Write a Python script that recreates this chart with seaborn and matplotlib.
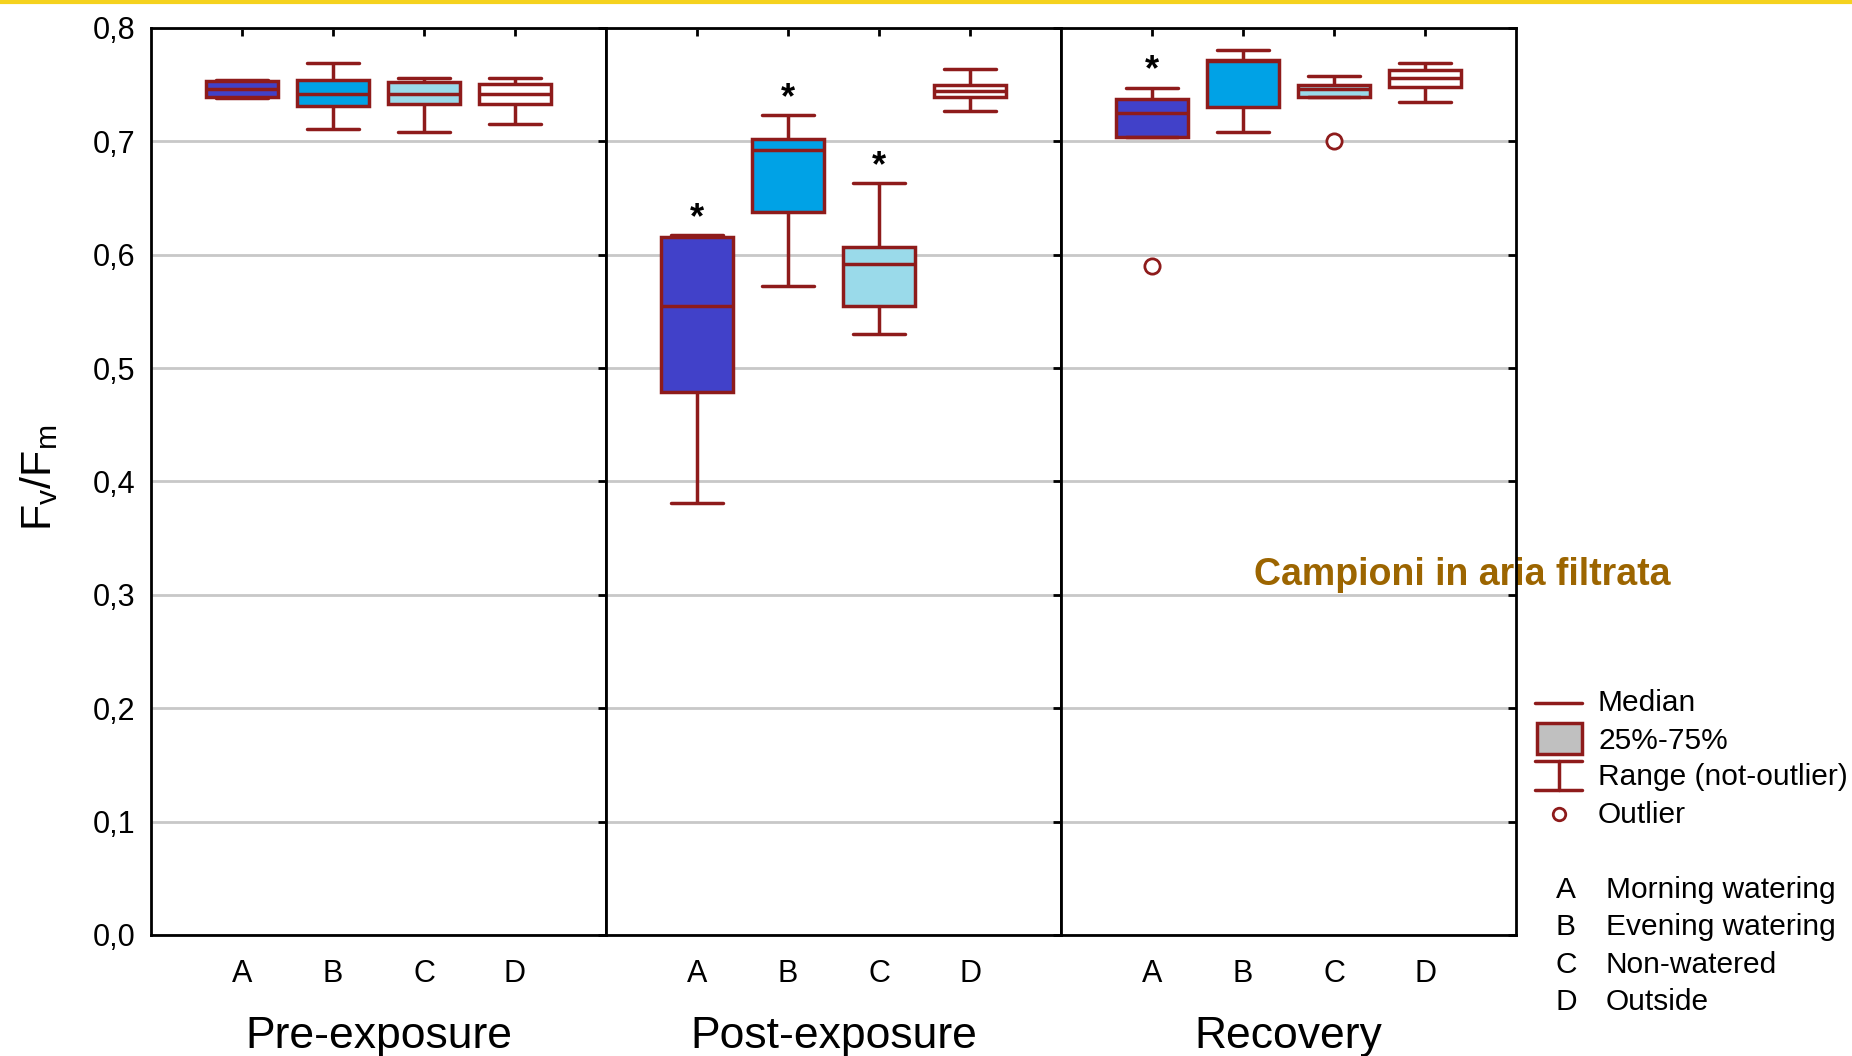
import numpy as np
import pandas as pd
import matplotlib.pyplot as plt
from matplotlib.lines import Line2D
from matplotlib.patches import Rectangle
import seaborn as sns

# ======================================
# 1. Datos
# ======================================
phases = ["Pre-exposure", "Post-exposure", "Recovery"]
groups = ["A", "B", "C", "D"]
group_names = ["Morning watering", "Evening watering", "Non-watered", "Outside"]

# estadísticos por fase, en el orden A, B, C, D
whisk_lo = {
    "Pre-exposure": [0.738, 0.711, 0.708, 0.715],
    "Post-exposure": [0.381, 0.572, 0.530, 0.727],
    "Recovery": [0.704, 0.708, 0.739, 0.735],
}
q1 = {
    "Pre-exposure": [0.739, 0.731, 0.733, 0.733],
    "Post-exposure": [0.479, 0.638, 0.555, 0.739],
    "Recovery": [0.704, 0.730, 0.739, 0.748],
}
median = {
    "Pre-exposure": [0.746, 0.742, 0.742, 0.742],
    "Post-exposure": [0.555, 0.692, 0.592, 0.744],
    "Recovery": [0.725, 0.771, 0.746, 0.756],
}
q3 = {
    "Pre-exposure": [0.753, 0.754, 0.752, 0.751],
    "Post-exposure": [0.616, 0.702, 0.607, 0.750],
    "Recovery": [0.737, 0.772, 0.750, 0.763],
}
whisk_hi = {
    "Pre-exposure": [0.754, 0.769, 0.756, 0.756],
    "Post-exposure": [0.617, 0.723, 0.663, 0.764],
    "Recovery": [0.747, 0.781, 0.758, 0.769],
}

outlier_phase = ["Recovery", "Recovery"]
outlier_group = ["A", "C"]
outlier_value = [0.590, 0.700]

star_phase = ["Post-exposure", "Post-exposure", "Post-exposure", "Recovery"]
star_group = ["A", "B", "C", "A"]

box_colors = ["#4141C9", "#00A2E6", "#9ADAEA", "#FFFFFF"]
red = "#8E1B1B"

# tabla larga: cinco valores por caja (min, q1, mediana, q3, max)
rows = []
for ph in phases:
    for i, g in enumerate(groups):
        for v in [whisk_lo[ph][i], q1[ph][i], median[ph][i], q3[ph][i], whisk_hi[ph][i]]:
            rows.append({"phase": ph, "group": g, "value": v})
df = pd.DataFrame(rows)
outliers = pd.DataFrame({"phase": outlier_phase, "group": outlier_group, "value": outlier_value})

# ======================================
# 2. Estilo
# ======================================
sns.set_style("white")
plt.rcParams["font.family"] = ["Liberation Sans", "DejaVu Sans"]
plt.rcParams["text.color"] = "black"
plt.rcParams["axes.labelcolor"] = "black"
plt.rcParams["xtick.color"] = "black"
plt.rcParams["ytick.color"] = "black"

fig, axes = plt.subplots(1, 3, figsize=(18.52, 10.56), dpi=100, sharey=True)
fig.subplots_adjust(left=0.0815, right=0.8186, bottom=0.1146, top=0.9735, wspace=0)

line_kw = dict(color=red, linewidth=2.5)

for ax, ph in zip(axes, phases):
    sub = df[df["phase"] == ph]
    sns.boxplot(
        data=sub, x="group", y="value", order=groups,
        hue="group", hue_order=groups, palette=box_colors, saturation=1,
        legend=False, whis=(0, 100), width=0.8, linecolor=red, linewidth=2.5,
        capwidths=0.58, ax=ax,
        boxprops=dict(edgecolor=red, linewidth=2.5),
        medianprops=line_kw, whiskerprops=line_kw, capprops=line_kw,
    )
    out = outliers[outliers["phase"] == ph]
    if len(out):
        sns.stripplot(
            data=out, x="group", y="value", order=groups, jitter=False,
            color="white", edgecolor=red, linewidth=2, size=11, ax=ax, zorder=5,
        )
    # asteriscos de significancia
    for sp, sg in zip(star_phase, star_group):
        if sp == ph:
            k = groups.index(sg)
            ax.text(k, whisk_hi[ph][k] + 0.015, "*", ha="center", va="center",
                    fontsize=26, fontweight="bold", color="black")

    ax.set_xlim(-1, 4)
    ax.set_ylim(0, 0.8)
    ax.set_yticks(np.arange(0, 0.81, 0.1))
    ax.set_xticks(range(len(groups)))
    ax.set_xticklabels(groups)
    ax.yaxis.grid(True, color="#C8C8C8", linewidth=2)
    ax.set_axisbelow(True)
    ax.tick_params(direction="in", top=True, right=True, length=6, width=2,
                   labelsize=22, color="black")
    ax.tick_params(axis="x", pad=17)
    ax.tick_params(axis="y", pad=11)
    for s in ax.spines.values():
        s.set_color("black")
        s.set_linewidth(2)
    ax.set_ylabel("")
    ax.set_xlabel(ph, fontsize=32, labelpad=20)

axes[0].set_yticklabels([f"{v:.1f}".replace(".", ",") for v in np.arange(0, 0.81, 0.1)])

# etiqueta eje Y
fig.text(39 / 1852, 1 - 478 / 1056, r"$\mathregular{F_v/F_m}$", rotation=90,
         ha="center", va="center", fontsize=31)

# título superpuesto
axes[2].text(1462 / 1852, 1 - 575 / 1056, "Campioni in aria filtrata",
             transform=fig.transFigure, ha="center", va="center", fontsize=27,
             fontweight="bold", color="#9C6500", zorder=2, clip_on=False)

# línea amarilla superior
fig.add_artist(Line2D([0, 1], [0.9985, 0.9985], transform=fig.transFigure,
                      color="#F5D21E", linewidth=3))

# ======================================
# 3. Leyenda manual
# ======================================
def fx(px):
    return px / 1852


def fy(py):
    return 1 - py / 1056


T = fig.transFigure
fig.add_artist(Line2D([fx(1535), fx(1582)], [fy(703), fy(703)], transform=T, color=red, lw=2.5))
fig.add_artist(Rectangle((fx(1537), fy(754)), fx(1582) - fx(1537), fy(723) - fy(754),
                         transform=T, facecolor="#C0C0C0", edgecolor=red, lw=2.5))
fig.add_artist(Line2D([fx(1535), fx(1582)], [fy(761), fy(761)], transform=T, color=red, lw=2.5))
fig.add_artist(Line2D([fx(1559), fx(1559)], [fy(761), fy(790)], transform=T, color=red, lw=2.5))
fig.add_artist(Line2D([fx(1535), fx(1582)], [fy(790), fy(790)], transform=T, color=red, lw=2.5))
fig.add_artist(Line2D([fx(1559)], [fy(814)], transform=T, marker="o", markersize=9,
                      markerfacecolor="white", markeredgecolor=red, markeredgewidth=2, lw=0))

for label, py in zip(["Median", "25%-75%", "Range (not-outlier)", "Outlier"], [703, 741, 777, 815]):
    fig.text(fx(1598), fy(py), label, ha="left", va="center", fontsize=21.5)

for g, name, py in zip(groups, group_names, [890, 927, 965, 1002]):
    fig.text(fx(1566), fy(py), g, ha="center", va="center", fontsize=21.5)
    fig.text(fx(1606), fy(py), name, ha="left", va="center", fontsize=21.5)

plt.savefig("out.png", dpi=100)
